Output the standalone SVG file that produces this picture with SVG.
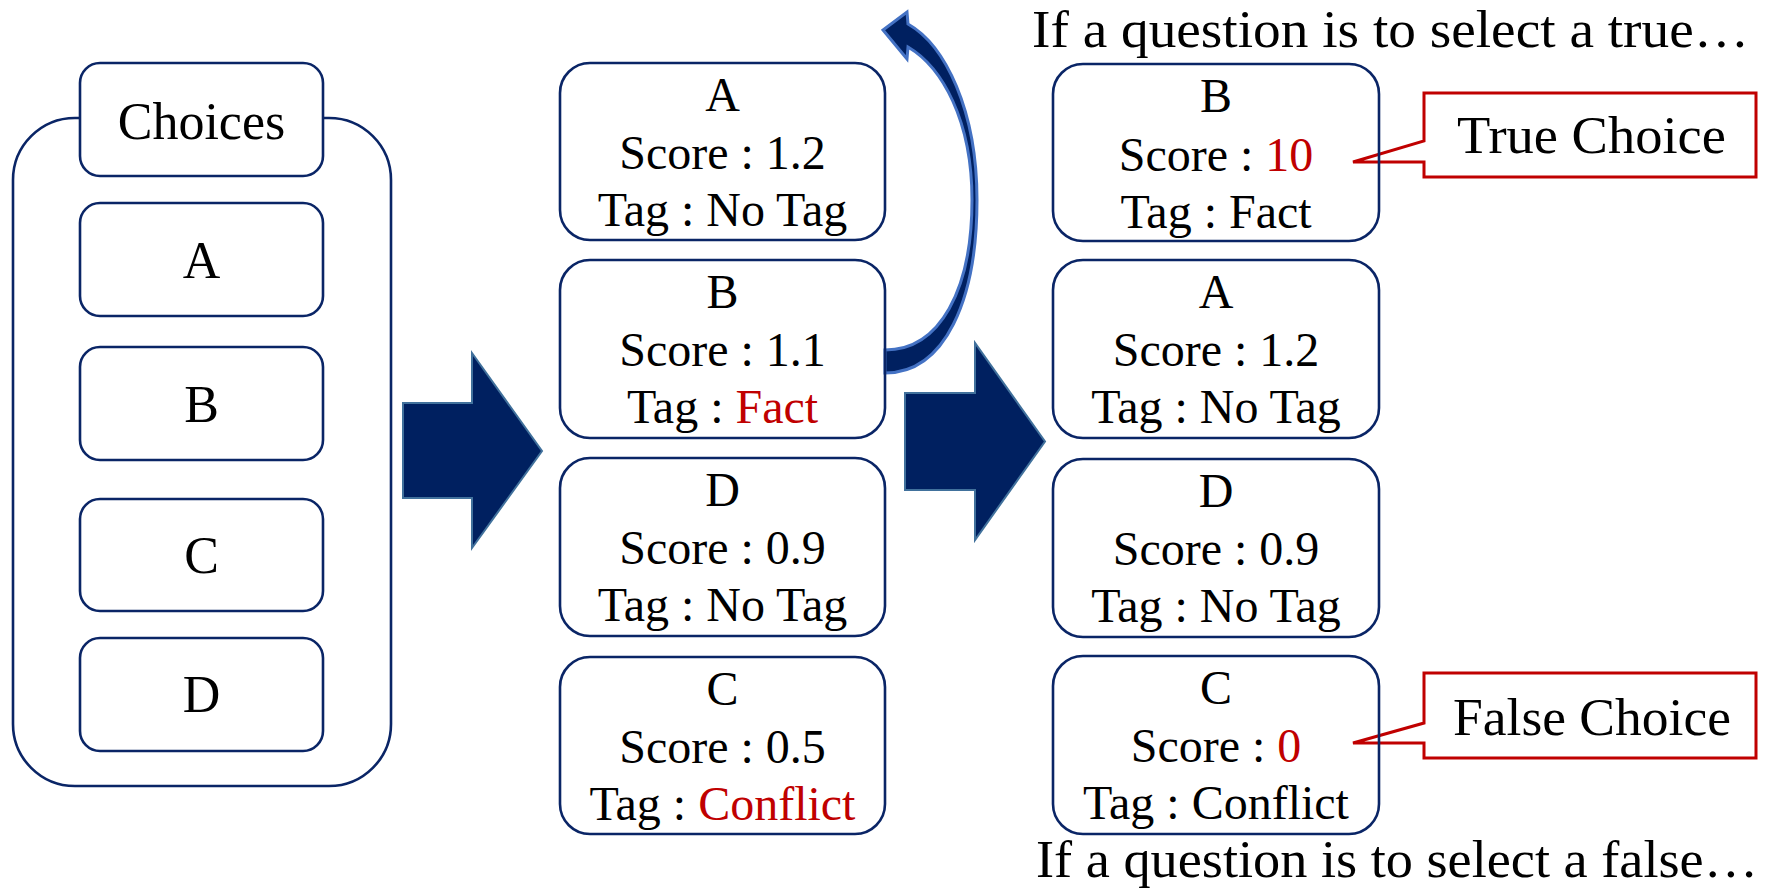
<svg xmlns="http://www.w3.org/2000/svg" width="1766" height="888" viewBox="0 0 1766 888">
<style>
.bx{fill:none;stroke:#0a2566;stroke-width:2.6}
.hd{fill:#fff;stroke:#0a2566;stroke-width:2.6}
.t{font-family:"Liberation Serif","Times New Roman",serif;fill:#000;text-anchor:middle}
.s52{font-size:52px}
.s48{font-size:48px}
.red{fill:#C00000}
.co{fill:none;stroke:#C00000;stroke-width:3;stroke-linejoin:miter}
.big{fill:#002060;stroke:#41719C;stroke-width:2}
.crv{fill:#002060;stroke:#4472C4;stroke-width:3;stroke-linejoin:miter}
</style>
<rect width="1766" height="888" fill="#fff"/>

<g id="choices-container">
  <rect class="bx" x="13" y="118" width="378" height="668" rx="62" ry="62"/>
  <rect class="hd" x="80" y="63" width="243" height="113" rx="20"/>
  <text class="t s52" x="201.5" y="139">Choices</text>
</g>
<g id="choice-A">
  <rect class="bx" x="80" y="203" width="243" height="113" rx="20"/>
  <text class="t s52" x="201.5" y="278">A</text>
</g>
<g id="choice-B">
  <rect class="bx" x="80" y="347" width="243" height="113" rx="20"/>
  <text class="t s52" x="201.5" y="422">B</text>
</g>
<g id="choice-C">
  <rect class="bx" x="80" y="499" width="243" height="112" rx="20"/>
  <text class="t s52" x="201.5" y="573">C</text>
</g>
<g id="choice-D">
  <rect class="bx" x="80" y="638" width="243" height="113" rx="20"/>
  <text class="t s52" x="201.5" y="712">D</text>
</g>

<g id="connectors">
  <path class="big" d="M403,403 H472 V353 L542,451 L472,548 V498 H403 Z"/>
  <path class="big" d="M905,393 H975 V343 L1045,441.5 L975,540 V490 H905 Z"/>
  <path class="crv" d="M885,350 C940,350 972,290 972,200 C972,120 942,67 908,47 L907,59 L883,30 L907,12 L908,24 C945,45 977,110 977,200 C977,300 945,373 885,373 Z"/>
</g>

<g id="mid-A">
  <rect class="bx" x="560" y="63" width="325" height="177" rx="30"/>
  <text class="t s48" x="722.5" y="111">A</text>
  <text class="t s48" x="722.5" y="169">Score : 1.2</text>
  <text class="t s48" x="722.5" y="226">Tag : No Tag</text>
</g>
<g id="mid-B">
  <rect class="bx" x="560" y="260" width="325" height="178" rx="30"/>
  <text class="t s48" x="722.5" y="308">B</text>
  <text class="t s48" x="722.5" y="366">Score : 1.1</text>
  <text class="t s48" x="722.5" y="423">Tag : <tspan class="red">Fact</tspan></text>
</g>
<g id="mid-D">
  <rect class="bx" x="560" y="458" width="325" height="178" rx="30"/>
  <text class="t s48" x="722.5" y="506">D</text>
  <text class="t s48" x="722.5" y="564">Score : 0.9</text>
  <text class="t s48" x="722.5" y="621">Tag : No Tag</text>
</g>
<g id="mid-C">
  <rect class="bx" x="560" y="657" width="325" height="177" rx="30"/>
  <text class="t s48" x="722.5" y="705">C</text>
  <text class="t s48" x="722.5" y="763">Score : 0.5</text>
  <text class="t s48" x="722.5" y="820">Tag : <tspan class="red">Conflict</tspan></text>
</g>

<g id="caption-true">
  <text class="t s52" x="1032" y="47" style="text-anchor:start" textLength="717" lengthAdjust="spacingAndGlyphs">If a question is to select a true…</text>
</g>
<g id="caption-false">
  <text class="t s52" x="1036" y="877" style="text-anchor:start" textLength="722" lengthAdjust="spacingAndGlyphs">If a question is to select a false…</text>
</g>

<g id="callout-true">
  <path class="co" d="M1424,93 H1756 V177 H1424 V162 H1353 L1424,141 Z"/>
  <text class="t s52" x="1591.5" y="153" textLength="269" lengthAdjust="spacingAndGlyphs">True Choice</text>
</g>
<g id="callout-false">
  <path class="co" d="M1424,673 H1756 V758 H1424 V743 H1353 L1424,723 Z"/>
  <text class="t s52" x="1592" y="735" textLength="278" lengthAdjust="spacingAndGlyphs">False Choice</text>
</g>

<g id="right-B">
  <rect class="bx" x="1053" y="64" width="326" height="177" rx="30"/>
  <text class="t s48" x="1216" y="112">B</text>
  <text class="t s48" x="1216" y="171">Score : <tspan class="red">10</tspan></text>
  <text class="t s48" x="1216" y="228">Tag : Fact</text>
</g>
<g id="right-A">
  <rect class="bx" x="1053" y="260" width="326" height="178" rx="30"/>
  <text class="t s48" x="1216" y="308">A</text>
  <text class="t s48" x="1216" y="366">Score : 1.2</text>
  <text class="t s48" x="1216" y="423">Tag : No Tag</text>
</g>
<g id="right-D">
  <rect class="bx" x="1053" y="459" width="326" height="178" rx="30"/>
  <text class="t s48" x="1216" y="507">D</text>
  <text class="t s48" x="1216" y="565">Score : 0.9</text>
  <text class="t s48" x="1216" y="622">Tag : No Tag</text>
</g>
<g id="right-C">
  <rect class="bx" x="1053" y="656" width="326" height="178" rx="30"/>
  <text class="t s48" x="1216" y="704">C</text>
  <text class="t s48" x="1216" y="762">Score : <tspan class="red">0</tspan></text>
  <text class="t s48" x="1216" y="819">Tag : Conflict</text>
</g>
</svg>
